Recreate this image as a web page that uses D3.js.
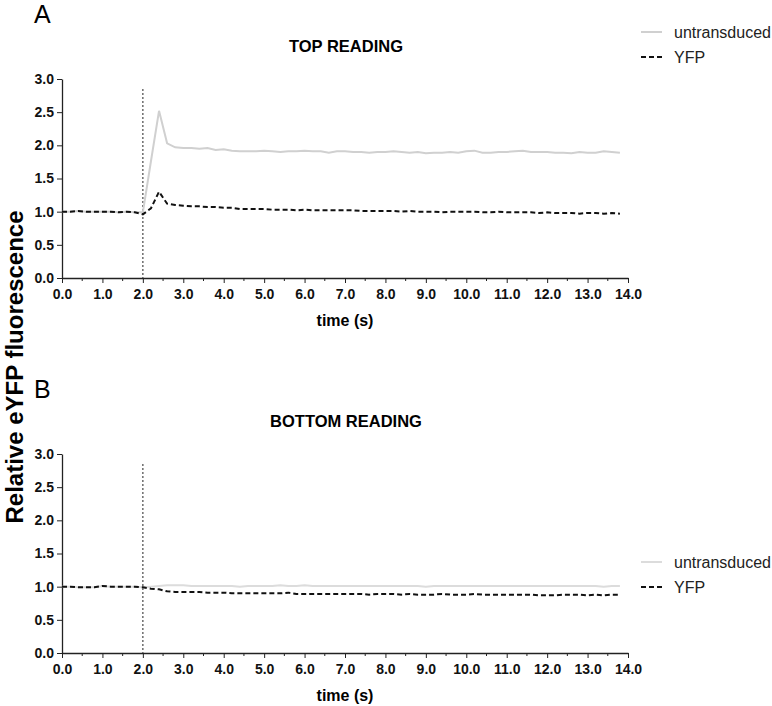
<!DOCTYPE html>
<html>
<head>
<meta charset="utf-8">
<script src="https://cdn.jsdelivr.net/npm/d3@7"></script>
<style>
  body { margin: 0; background: #fff; }
  svg { font-family: "Liberation Sans", Arial, sans-serif; }
  .axis path, .axis line { stroke: #222; }
</style>
</head>
<body>
<svg id="chart" width="772" height="706"></svg>
<script>
// Relative eYFP fluorescence, top and bottom reading

const times = [0.0, 0.2, 0.4, 0.6, 0.8, 1.0, 1.2, 1.4, 1.6, 1.8,
  2.0, 2.2, 2.4, 2.6, 2.8, 3.0, 3.2, 3.4, 3.6, 3.8,
  4.0, 4.2, 4.4, 4.6, 4.8, 5.0, 5.2, 5.4, 5.6, 5.8,
  6.0, 6.2, 6.4, 6.6, 6.8, 7.0, 7.2, 7.4, 7.6, 7.8,
  8.0, 8.2, 8.4, 8.6, 8.8, 9.0, 9.2, 9.4, 9.6, 9.8,
  10.0, 10.2, 10.4, 10.6, 10.8, 11.0, 11.2, 11.4, 11.6, 11.8,
  12.0, 12.2, 12.4, 12.6, 12.8, 13.0, 13.2, 13.4, 13.6, 13.8];

const topUntransduced = [1.00, 1.00, 1.01, 1.00, 1.00, 1.00, 1.00, 0.99, 1.00, 0.99,
  0.99, 1.76, 2.52, 2.03, 1.97, 1.96, 1.96, 1.95, 1.96, 1.93,
  1.94, 1.92, 1.91, 1.91, 1.91, 1.92, 1.91, 1.90, 1.91, 1.91,
  1.92, 1.91, 1.91, 1.89, 1.91, 1.91, 1.90, 1.90, 1.89, 1.90,
  1.90, 1.91, 1.90, 1.89, 1.90, 1.88, 1.89, 1.89, 1.90, 1.89,
  1.91, 1.92, 1.89, 1.89, 1.90, 1.90, 1.91, 1.92, 1.90, 1.90,
  1.90, 1.89, 1.89, 1.88, 1.90, 1.89, 1.89, 1.91, 1.90, 1.89];

const topYFP = [1.00, 1.00, 1.01, 1.00, 1.00, 1.00, 1.00, 0.99, 1.00, 0.99,
  0.96, 1.05, 1.30, 1.12, 1.10, 1.09, 1.08, 1.08, 1.07, 1.07,
  1.06, 1.06, 1.04, 1.04, 1.04, 1.04, 1.03, 1.03, 1.03, 1.02,
  1.03, 1.02, 1.02, 1.02, 1.02, 1.02, 1.02, 1.01, 1.01, 1.01,
  1.01, 1.01, 1.00, 1.01, 1.00, 1.00, 1.00, 0.99, 1.00, 1.00,
  1.00, 1.00, 0.99, 0.99, 1.00, 0.99, 0.99, 0.99, 0.99, 0.98,
  0.99, 0.98, 0.98, 0.98, 0.97, 0.98, 0.98, 0.97, 0.98, 0.97];

const bottomUntransduced = [1.00, 1.00, 0.99, 0.99, 0.99, 1.01, 1.00, 1.00, 1.00, 1.00,
  0.99, 1.00, 1.01, 1.02, 1.02, 1.02, 1.01, 1.01, 1.01, 1.01,
  1.01, 1.01, 1.00, 1.01, 1.01, 1.01, 1.01, 1.02, 1.01, 1.01,
  1.02, 1.01, 1.01, 1.01, 1.01, 1.01, 1.01, 1.01, 1.01, 1.01,
  1.01, 1.01, 1.01, 1.01, 1.01, 1.00, 1.01, 1.01, 1.01, 1.01,
  1.01, 1.01, 1.01, 1.01, 1.01, 1.01, 1.01, 1.01, 1.01, 1.01,
  1.01, 1.01, 1.01, 1.01, 1.01, 1.01, 1.01, 1.00, 1.01, 1.01];

const bottomYFP = [1.00, 1.00, 0.99, 0.99, 0.99, 1.01, 1.00, 1.00, 1.00, 1.00,
  0.99, 0.97, 0.96, 0.93, 0.92, 0.92, 0.92, 0.92, 0.91, 0.91,
  0.91, 0.90, 0.90, 0.90, 0.90, 0.90, 0.90, 0.90, 0.91, 0.89,
  0.89, 0.89, 0.89, 0.89, 0.89, 0.89, 0.89, 0.89, 0.88, 0.89,
  0.89, 0.89, 0.88, 0.89, 0.88, 0.88, 0.88, 0.89, 0.88, 0.88,
  0.88, 0.89, 0.88, 0.88, 0.88, 0.88, 0.88, 0.88, 0.88, 0.87,
  0.87, 0.87, 0.88, 0.88, 0.88, 0.87, 0.88, 0.87, 0.88, 0.88];

const seriesNames = ['untransduced', 'YFP'];
const xTicks = [0, 1, 2, 3, 4, 5, 6, 7, 8, 9, 10, 11, 12, 13, 14];
const yTicks = [0, 0.5, 1.0, 1.5, 2.0, 2.5, 3.0];
const stimulusTime = 2.0;

const svg = d3.select('#chart');

const panels = [
  { letter: 'A', title: 'TOP READING', top: 79, bottom: 278, legendY: 32,
    untransducedColor: '#d0d0d0', series: [topUntransduced, topYFP] },
  { letter: 'B', title: 'BOTTOM READING', top: 454, bottom: 653, legendY: 562,
    untransducedColor: '#dcdcdc', series: [bottomUntransduced, bottomYFP] }
];

const left = 62, right = 628;

panels.forEach(p => {
  const x = d3.scaleLinear().domain([0, 14]).range([left, right]);
  const y = d3.scaleLinear().domain([0, 3]).range([p.bottom, p.top]);
  const g = svg.append('g');
  const styles = [
    { stroke: p.untransducedColor, dash: null, width: 2 },
    { stroke: '#111', dash: '5,3', width: 2 }
  ];

  // panel letter and title
  g.append('text')
    .attr('x', 34).attr('y', p.top - 56)
    .style('font-size', '25px')
    .text(p.letter);

  g.append('text')
    .attr('x', 346).attr('y', p.top - 27)
    .attr('text-anchor', 'middle')
    .style('font-size', '16.5px')
    .style('font-weight', 'bold')
    .text(p.title);

  // axes
  const xAxis = g.append('g')
    .attr('class', 'axis')
    .attr('transform', `translate(0,${p.bottom})`)
    .call(d3.axisBottom(x).tickValues(xTicks).tickSize(5).tickSizeOuter(0).tickFormat(d3.format('.1f')));
  xAxis.selectAll('text')
    .style('font-size', '14px').style('font-weight', 'bold').style('fill', '#111')
    .attr('dy', '0.9em');
  // minor ticks
  xAxis.selectAll('.minor')
    .data(xTicks.slice(0, -1))
    .enter()
    .append('line')
    .attr('class', 'minor')
    .attr('x1', d => x(d + 0.5)).attr('x2', d => x(d + 0.5))
    .attr('y1', 0).attr('y2', 3)
    .style('stroke', '#222');

  const yAxis = g.append('g')
    .attr('class', 'axis')
    .attr('transform', `translate(${left},0)`)
    .call(d3.axisLeft(y).tickValues(yTicks).tickSize(5).tickSizeOuter(0).tickFormat(d3.format('.1f')));
  yAxis.selectAll('text')
    .style('font-size', '14px').style('font-weight', 'bold').style('fill', '#111');
  g.selectAll('.axis path').style('stroke-width', 1.3);

  // x label
  g.append('text')
    .attr('x', 345).attr('y', p.bottom + 48)
    .attr('text-anchor', 'middle')
    .style('font-size', '16px')
    .style('font-weight', 'bold')
    .text('time (s)');

  // stimulus marker
  g.append('line')
    .attr('x1', x(stimulusTime)).attr('x2', x(stimulusTime))
    .attr('y1', y(2.85)).attr('y2', p.bottom)
    .style('stroke', '#555')
    .style('stroke-width', 1.3)
    .style('stroke-dasharray', '2,2');

  // series lines
  const line = d3.line()
    .x((d, i) => x(times[i]))
    .y(d => y(d));

  p.series.forEach((values, k) => {
    g.append('path')
      .datum(values)
      .attr('d', line)
      .style('fill', 'none')
      .style('stroke', styles[k].stroke)
      .style('stroke-width', styles[k].width)
      .style('stroke-dasharray', styles[k].dash);
  });

  // legend
  const legend = g.append('g')
    .attr('transform', `translate(641,${p.legendY})`);
  seriesNames.forEach((name, k) => {
    legend.append('line')
      .attr('x1', 0).attr('x2', 21)
      .attr('y1', k * 25).attr('y2', k * 25)
      .style('stroke', styles[k].stroke)
      .style('stroke-width', styles[k].width)
      .style('stroke-dasharray', styles[k].dash);
    legend.append('text')
      .attr('x', 33).attr('y', k * 25)
      .attr('dy', '0.35em')
      .style('font-size', '16px')
      .style('fill', '#222')
      .text(name);
  });
});

// shared y label
svg.append('text')
  .attr('transform', 'translate(23,367) rotate(-90)')
  .attr('text-anchor', 'middle')
  .style('font-size', '24px')
  .style('font-weight', 'bold')
  .text('Relative eYFP fluorescence');
</script>
</body>
</html>
